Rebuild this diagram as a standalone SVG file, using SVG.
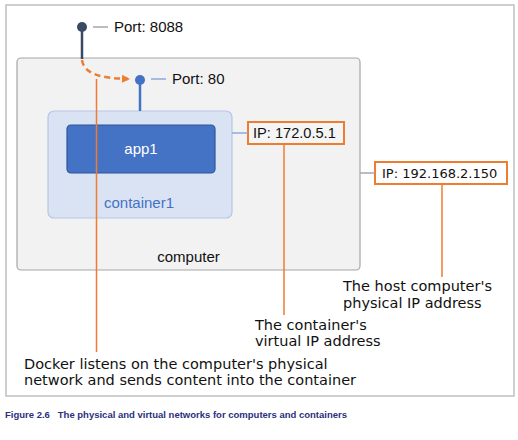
<svg xmlns="http://www.w3.org/2000/svg" width="518" height="440" viewBox="0 0 518 440">
<style>
.lbl{font-family:"Liberation Sans",Arial,sans-serif;font-size:15px;fill:#111}
.note{font-family:"DejaVu Sans",Verdana,sans-serif;font-size:14.5px;fill:#111}
.orange{stroke:#ed7d31;stroke-width:1.5;fill:none}
.obox{fill:#f5f5f5;stroke:#ed7d31;stroke-width:2}
</style>
<defs>
<marker id="arr" markerWidth="8" markerHeight="8" refX="6" refY="4" orient="auto" markerUnits="userSpaceOnUse">
<path d="M0,0 L8,4 L0,8 Z" fill="#ed7d31"/>
</marker>
</defs>
<rect x="0" y="0" width="518" height="440" fill="#fff"/>
<rect x="6" y="5" width="508" height="391" fill="#fff" stroke="#c0c0c0" stroke-width="1.5"/>
<g id="computer">
<rect x="17" y="58" width="343" height="212" rx="4" fill="#f2f2f2" stroke="#a6a6a6" stroke-width="1.2"/>
<text class="lbl" x="188.5" y="262" text-anchor="middle">computer</text>
</g>
<g id="container1">
<rect x="48" y="111" width="184" height="107" rx="6" fill="#dae3f3" stroke="#b4c7e7" stroke-width="1.2"/>
<text class="lbl" x="139" y="208" text-anchor="middle" style="fill:#4472c4">container1</text>
</g>
<g id="app1">
<rect x="67" y="125" width="148" height="48" rx="4" fill="#4472c4" stroke="#2f5597" stroke-width="1.2"/>
<text class="lbl" x="141" y="154" text-anchor="middle" style="fill:#fff">app1</text>
</g>
<g id="port8088">
<circle cx="82" cy="27" r="5" fill="#3b4a63"/>
<text class="lbl" x="114" y="32">Port: 8088</text>
</g>
<g id="port80">
<circle cx="140" cy="80" r="5" fill="#4472c4"/>
<text class="lbl" x="172" y="84">Port: 80</text>
</g>
<g id="ip-container">
<rect class="obox" x="248" y="122" width="96" height="22"/>
<text class="lbl" x="253" y="138" style="font-size:14.6px">IP: 172.0.5.1</text>
</g>
<g id="ip-host">
<rect class="obox" x="375" y="162" width="132" height="22" style="fill:#fff"/>
<text class="note" x="382" y="178" style="font-size:13px">IP: 192.168.2.150</text>
</g>
<g id="note-host">
<text class="note" x="343" y="291">The host computer's</text>
<text class="note" x="343" y="308">physical IP address</text>
</g>
<g id="note-container">
<text class="note" x="255" y="330">The container's</text>
<text class="note" x="255" y="346">virtual IP address</text>
</g>
<g id="note-docker">
<text class="note" x="24" y="369">Docker listens on the computer's physical</text>
<text class="note" x="24" y="385">network and sends content into the container</text>
</g>
<g id="connectors">
<line x1="82" y1="27" x2="82" y2="59" stroke="#3b4a63" stroke-width="2.5"/>
<line x1="93" y1="27" x2="108" y2="27" stroke="#a6a6a6" stroke-width="1.5"/>
<path d="M82,60 C84,74 100,78 128,79" fill="none" stroke="#ed7d31" stroke-width="2.5" stroke-dasharray="6 4" marker-end="url(#arr)"/>
<line x1="140" y1="80" x2="140" y2="111" stroke="#4472c4" stroke-width="2.5"/>
<line x1="151" y1="79" x2="166" y2="79" stroke="#8faadc" stroke-width="1.5"/>
<line x1="232" y1="133" x2="248" y2="133" stroke="#8faadc" stroke-width="1.5"/>
<line x1="360" y1="173" x2="375" y2="173" stroke="#a6a6a6" stroke-width="1.5"/>
<line class="orange" x1="284" y1="145" x2="284" y2="315"/>
<line class="orange" x1="442" y1="185" x2="442" y2="277"/>
<line class="orange" x1="96.5" y1="79" x2="96.5" y2="352"/>
</g>
<text x="5" y="418" textLength="342" lengthAdjust="spacingAndGlyphs" style="font-family:'Liberation Sans',Arial,sans-serif;font-weight:bold;font-size:9.5px;fill:#2b2f7e" xml:space="preserve">Figure 2.6   The physical and virtual networks for computers and containers</text>
</svg>
